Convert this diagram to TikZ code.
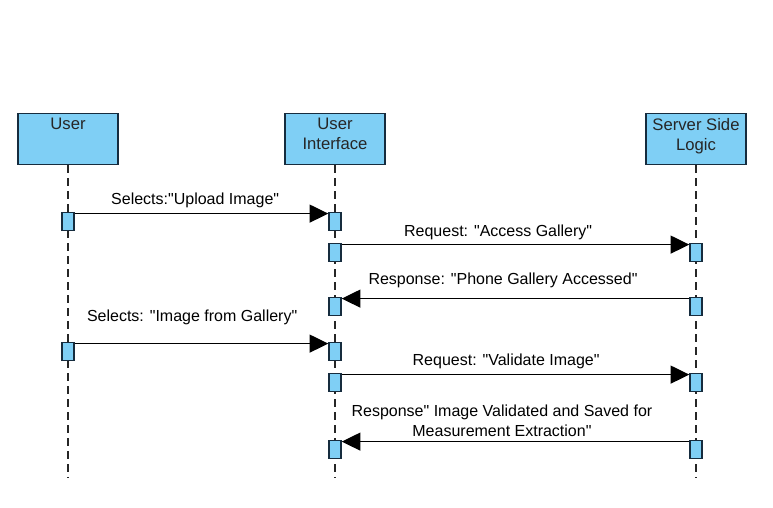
\documentclass[tikz,border=0pt]{standalone}
\usepackage{fontspec}
\setmainfont{Liberation Sans}[Ligatures=TeXOff]
\usetikzlibrary{arrows.meta, positioning, calc}
\definecolor{actfill}{RGB}{127,207,245}
\definecolor{actline}{RGB}{22,44,62}
\tikzset{
  head/.style={rectangle, draw=actline, fill=actfill, minimum width=75pt,
    minimum height=38.25pt, line width=1.1pt, anchor=north, inner sep=0pt},
  headtext/.style={anchor=north, inner sep=0pt, align=center,
    font=\fontsize{12.5}{15}\selectfont, text=black!85},
  act/.style={rectangle, draw=actline, fill=actfill, minimum width=9pt,
    minimum height=13.5pt, line width=1.1pt, anchor=north, inner sep=0pt},
  life/.style={draw=black!85, line width=1.3pt, dash pattern=on 6pt off 3.75pt},
  msg/.style={-{Triangle[length=14pt, width=13.5pt]}, line width=0.9pt, color=black},
  msgtext/.style={inner sep=0pt, font=\fontsize{12}{15}\selectfont, align=center}
}

\begin{document}
\begin{tikzpicture}[x=0.75pt, y=-0.75pt]
  \useasboundingbox (0,0) rectangle (773,507);

  % Lifeline heads
  \node[head] (user) at (68,113) {};
  \node[head] (ui) at (335,113) {};
  \node[head] (serv) at (696,113) {};
  \node[headtext] (userT) at ([yshift=-3.75pt]user.north) {User};
  \node[headtext] (uiT) at ([yshift=-3.75pt]ui.north) {User\\Interface};
  \node[headtext] (servT) at ([yshift=-3.75pt]serv.north) {Server Side\\Logic};

  % Lifelines
  \coordinate (userEnd) at (68,478);
  \coordinate (uiEnd) at (335,478);
  \coordinate (servEnd) at (696,478);
  \draw[life] (user.south) -- (userEnd);
  \draw[life] (ui.south) -- (uiEnd);
  \draw[life] (serv.south) -- (servEnd);

  % Activation boxes
  \node[act] (u1) at (68,212) {};
  \node[act] (u2) at (68,342) {};
  \node[act] (i1) at (335,212) {};
  \node[act] (i2) at (335,243) {};
  \node[act] (i3) at (335,297) {};
  \node[act] (i4) at (335,342) {};
  \node[act] (i5) at (335,373) {};
  \node[act] (i6) at (335,440) {};
  \node[act] (s1) at (696,243) {};
  \node[act] (s2) at (696,297) {};
  \node[act] (s3) at (696,373) {};
  \node[act] (s4) at (696,440) {};

  % Messages
  \draw[msg] ([yshift=-1.2pt]u1.north east) -- ([yshift=-1.2pt]i1.north west)
    node[msgtext, pos=0.475, anchor=base, yshift=6.75pt] {Selects:"Upload Image"};
  \draw[msg] ([yshift=-1.2pt]i2.north east) -- ([yshift=-1.2pt]s1.north west)
    node[msgtext, pos=0.45, anchor=base, yshift=6pt] {Request: "Access Gallery"};
  \draw[msg] ([yshift=-1.2pt]s2.north west) -- ([yshift=-1.2pt]i3.north east)
    node[msgtext, pos=0.536, anchor=base, yshift=10.5pt] {Response: "Phone Gallery Accessed"};
  \draw[msg] ([yshift=-1.2pt]u2.north east) -- ([yshift=-1.2pt]i4.north west)
    node[msgtext, pos=0.463, anchor=base, yshift=16.5pt] {Selects: "Image from Gallery"};
  \draw[msg] ([yshift=-1.2pt]i5.north east) -- ([yshift=-1.2pt]s3.north west)
    node[msgtext, pos=0.473, anchor=base, yshift=6.5pt] {Request: "Validate Image"};
  \draw[msg] ([yshift=-1.2pt]s4.north west) -- ([yshift=-1.2pt]i6.north east)
    node[msgtext, pos=0.539, anchor=south, yshift=3pt] {Response" Image Validated and Saved for\\Measurement Extraction"};
\end{tikzpicture}
\end{document}
